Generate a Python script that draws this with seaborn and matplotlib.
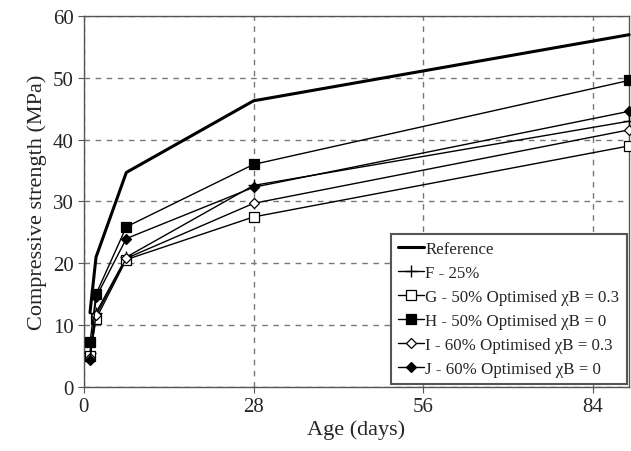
import matplotlib
matplotlib.use("Agg")
import matplotlib.pyplot as plt
import seaborn as sns
import pandas as pd

ages = [1, 2, 7, 28, 90]
reference = [12.0, 21.0, 34.7, 46.3, 57.0]
f_25 = [5.5, 12.0, 21.0, 32.6, 43.0]
g_50_03 = [5.0, 11.0, 20.6, 27.5, 39.0]
h_50_0 = [7.2, 15.0, 25.9, 36.0, 49.6]
i_60_03 = [4.6, 11.6, 20.8, 29.7, 41.6]
j_60_0 = [4.4, 14.5, 24.0, 32.3, 44.6]

labels = ["Reference", "F - 25%", "G - 50% Optimised χB = 0.3",
          "H - 50% Optimised χB = 0", "I - 60% Optimised χB = 0.3",
          "J - 60% Optimised χB = 0"]
series = [reference, f_25, g_50_03, h_50_0, i_60_03, j_60_0]

sns.set_style("ticks")
plt.rcParams['font.family'] = ['Liberation Serif', 'DejaVu Serif']

fig = plt.figure(figsize=(6.31, 4.52), dpi=100)
ax = fig.add_axes([0.133, 0.142, 0.864, 0.820])

styles = [
    dict(marker=None, lw=2.2),
    dict(marker='+', ms=9, mfc='black', mec='black', mew=1.0, lw=1.0),
    dict(marker='s', ms=6.5, mfc='white', mec='black', mew=0.9, lw=1.0),
    dict(marker='s', ms=6.5, mfc='black', mec='black', mew=0.9, lw=1.0),
    dict(marker='D', ms=5.5, mfc='white', mec='black', mew=0.9, lw=1.0),
    dict(marker='D', ms=5.5, mfc='black', mec='black', mew=0.9, lw=1.0),
]

for lab, vals, st in zip(labels, series, styles):
    df = pd.DataFrame({"age": ages, "strength": vals})
    sns.lineplot(data=df, x="age", y="strength", ax=ax, color='black',
                 label=lab, clip_on=False, zorder=3, **st)

ax.set_xlim(0, 90)
ax.set_ylim(0, 60)
ax.set_xticks([0, 28, 56, 84])
ax.set_yticks(range(0, 61, 10))
ax.grid(True, linestyle=(0, (4, 4)), color='#777777', lw=1.0)
ax.set_axisbelow(True)
for s in ax.spines.values():
    s.set_color('#555555')
    s.set_linewidth(1.0)
ax.tick_params(labelsize=15, direction='out', length=4, color='#555555')
ax.set_xlabel("Age (days)", fontsize=16, labelpad=2)
ax.set_ylabel("Compressive strength (MPa)", fontsize=16, labelpad=4)

leg = ax.legend(loc='lower right', fontsize=12.2, frameon=True, fancybox=False,
                handlelength=1.5, handletextpad=0.1, borderpad=0.42,
                labelspacing=0.47, borderaxespad=0.15)
leg.get_frame().set_edgecolor('#555555')
leg.get_frame().set_linewidth(1.5)
leg.get_frame().set_alpha(1)

fig.savefig("out.png", dpi=100)
